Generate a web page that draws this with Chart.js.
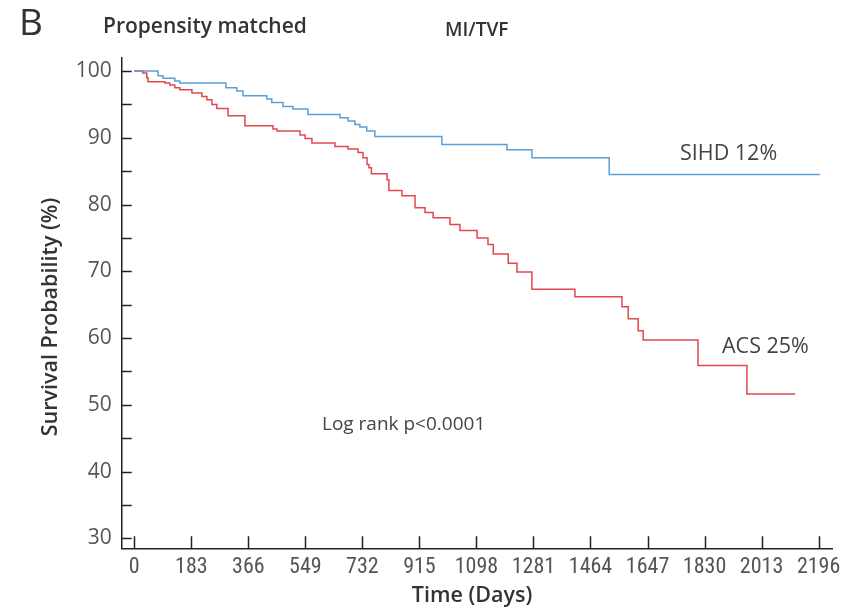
<!DOCTYPE html>
<html>
<head>
<meta charset="utf-8">
<script src="https://cdn.jsdelivr.net/npm/chart.js@4.4.1/dist/chart.umd.min.js"></script>
<style>
  html, body { margin: 0; padding: 0; background: #fff; }
  canvas { display: block; }
</style>
</head>
<body>
<canvas id="km" width="858" height="607"></canvas>
<script>
// tick labels
var xTicks = [0, 183, 366, 549, 732, 915, 1098, 1281, 1464, 1647, 1830, 2013, 2196];
var yTicks = [30, 40, 50, 60, 70, 80, 90, 100];
var yMinorTicks = [35, 45, 55, 65, 75, 85, 95];

// SIHD curve (blue)
var sihdDays = [0, 76, 92, 130, 146, 294, 329, 349, 425, 441, 477, 509, 557, 660, 686, 708, 724, 746, 772, 987, 1196, 1276, 1524, 2200];
var sihdSurv = [100, 99.3, 98.9, 98.5, 98.2, 97.5, 97.0, 96.3, 95.8, 95.3, 94.7, 94.3, 93.5, 93.0, 92.5, 92.0, 91.6, 91.0, 90.2, 89.0, 88.2, 87.0, 84.5, 84.5];

// ACS curve (red)
var acsDays = [0, 27, 40, 44, 98, 114, 130, 146, 185, 217, 233, 249, 265, 301, 355, 445, 458, 532, 548, 570, 644, 686, 718, 734, 747, 753, 761, 811, 817, 859, 901, 933, 959, 1013, 1045, 1100, 1135, 1152, 1200, 1228, 1276, 1414, 1565, 1585, 1617, 1633, 1809, 1966, 2121];
var acsSurv = [100, 99.7, 99.0, 98.4, 98.2, 97.9, 97.5, 97.2, 96.7, 96.2, 95.7, 95.0, 94.4, 93.3, 91.8, 91.3, 91.0, 90.4, 89.9, 89.2, 88.7, 88.3, 87.8, 87.0, 86.0, 85.5, 84.6, 83.7, 82.1, 81.3, 79.5, 78.8, 78.0, 77.0, 76.1, 75.0, 74.0, 72.6, 71.2, 69.9, 67.3, 66.2, 64.7, 62.9, 61.1, 59.7, 55.9, 51.6, 51.6];

var ink = '#444';
var tickInk = '#555';
var axisInk = '#222';
var regular = '"Open Sans", "Noto Sans", sans-serif';
var narrow = '"Roboto Condensed", "DejaVu Sans Condensed", sans-serif';

function toPoints(days, surv) {
    return days.map(function (d, i) { return { x: d, y: surv[i] }; });
}

// ticks point into the plot, so draw them by hand off the scales
var insideTicks = {
    id: 'insideTicks',
    afterDraw: function (chart) {
        var ctx = chart.ctx, sx = chart.scales.x, sy = chart.scales.y;
        ctx.save();
        ctx.strokeStyle = axisInk;
        ctx.lineWidth = 1.5;
        ctx.beginPath();
        xTicks.forEach(function (t) {
            var px = Math.round(sx.getPixelForValue(t)) + 0.5;
            ctx.moveTo(px, sy.bottom);
            ctx.lineTo(px, sy.bottom - 12);
        });
        yTicks.concat(yMinorTicks).forEach(function (t) {
            var py = Math.round(sy.getPixelForValue(t)) + 0.5;
            ctx.moveTo(sx.left, py);
            ctx.lineTo(sx.left + 10, py);
        });
        ctx.stroke();
        ctx.restore();
    }
};

var notes = {
    id: 'notes',
    afterDraw: function (chart) {
        var ctx = chart.ctx;
        ctx.save();
        ctx.fillStyle = '#333';
        ctx.textBaseline = 'middle';
        ctx.textAlign = 'left';
        ctx.font = '37px ' + regular;
        ctx.fillText('B', 19, 24);
        ctx.font = '600 21px ' + regular;
        ctx.fillText('Propensity matched', 103, 27);
        ctx.font = '600 19px ' + regular;
        ctx.fillText('MI/TVF', 445, 31);

        ctx.fillStyle = ink;
        ctx.font = '21.5px ' + regular;
        ctx.fillText('SIHD 12%', 680, 154);
        ctx.fillText('ACS 25%', 722, 347);
        ctx.font = '19px ' + regular;
        ctx.fillText('Log rank p<0.0001', 322, 425);

        // axis titles
        ctx.fillStyle = '#333';
        ctx.textAlign = 'center';
        ctx.font = '600 21.5px ' + regular;
        ctx.fillText('Time (Days)', 472, 596);
        ctx.translate(51, 317);
        ctx.rotate(-Math.PI / 2);
        ctx.fillText('Survival Probability (%)', 0, 0);
        ctx.restore();
    }
};

function init() {
    var canvas = document.getElementById('km');
    new Chart(canvas, {
        type: 'line',
        data: {
            datasets: [
                {
                    label: 'SIHD',
                    data: toPoints(sihdDays, sihdSurv),
                    borderColor: '#5b9fd6',
                    borderWidth: 1.5,
                    stepped: true,
                    pointRadius: 0,
                    fill: false
                },
                {
                    label: 'ACS',
                    data: toPoints(acsDays, acsSurv),
                    borderColor: '#e2474e',
                    borderWidth: 1.5,
                    stepped: true,
                    pointRadius: 0,
                    fill: false
                }
            ]
        },
        options: {
            responsive: false,
            animation: false,
            layout: { padding: { top: 58, right: 26, left: 0, bottom: 0 } },
            plugins: {
                legend: { display: false },
                tooltip: { enabled: false }
            },
            scales: {
                x: {
                    type: 'linear',
                    min: -40.4,
                    max: 2239,
                    afterBuildTicks: function (scale) {
                        scale.ticks = xTicks.map(function (v) { return { value: v }; });
                    },
                    afterFit: function (scale) { scale.height = 58.7; },
                    grid: { display: true, drawOnChartArea: false, drawTicks: false },
                    border: { display: true, color: axisInk, width: 1.5 },
                    ticks: {
                        autoSkip: false,
                        maxRotation: 0,
                        padding: 6,
                        color: tickInk,
                        font: { family: narrow, size: 22 },
                        callback: function (v) { return String(v); }
                    }
                },
                y: {
                    min: 28.5,
                    max: 101.95,
                    afterBuildTicks: function (scale) {
                        scale.ticks = yTicks.map(function (v) { return { value: v }; });
                    },
                    afterFit: function (scale) { scale.width = 121.7; },
                    grid: { display: true, drawOnChartArea: false, drawTicks: false },
                    border: { display: true, color: axisInk, width: 1.5 },
                    ticks: {
                        padding: 10,
                        color: tickInk,
                        font: { family: regular, size: 21 }
                    }
                }
            }
        },
        plugins: [insideTicks, notes]
    });
}

init();
</script>
</body>
</html>
